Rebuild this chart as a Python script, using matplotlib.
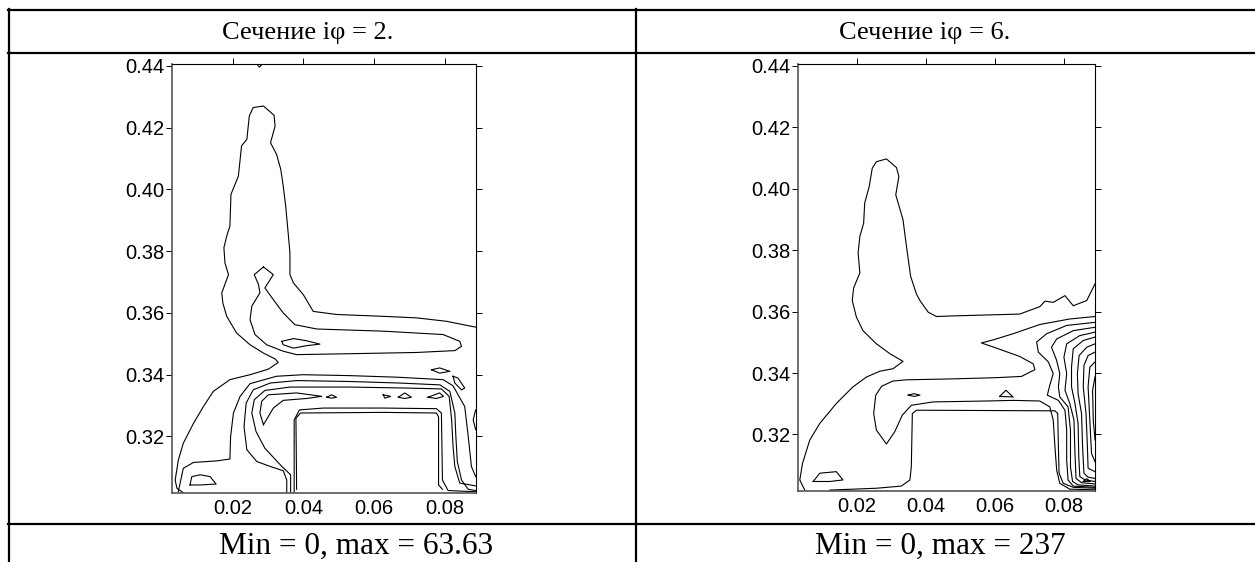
import numpy as np
import matplotlib.pyplot as plt
from matplotlib.lines import Line2D

W, H = 1255, 562

titles = ["Сечение iφ = 2.", "Сечение iφ = 6."]
footers = ["Min = 0, max = 63.63", "Min = 0, max = 237"]
xticks = [0.02, 0.04, 0.06, 0.08]
yticks = [0.32, 0.34, 0.36, 0.38, 0.40, 0.42, 0.44]
xlim = (0.0028, 0.0889)
ylim = (0.3017, 0.4406)

# contour lines of the left panel (x, y pairs)
left_lines = [
    # outer level: band top, plume, notch, lower-left
    [(0.0888, 0.3554), (0.0805, 0.3573), (0.0721, 0.3584), (0.0626, 0.3589),
     (0.0494, 0.3595), (0.0428, 0.3605), (0.0400, 0.3659), (0.0372, 0.3697),
     (0.0362, 0.3724), (0.0362, 0.3795), (0.0357, 0.3859), (0.0350, 0.3946),
     (0.0343, 0.4011), (0.0336, 0.4065), (0.0324, 0.4114), (0.0307, 0.4151),
     (0.0320, 0.4205), (0.0317, 0.4240), (0.0287, 0.4270), (0.0258, 0.4265),
     (0.0247, 0.4238), (0.0240, 0.4162), (0.0225, 0.4141), (0.0216, 0.4043),
     (0.0195, 0.3984), (0.0192, 0.3881), (0.0183, 0.3849), (0.0175, 0.3811),
     (0.0178, 0.3762), (0.0188, 0.3724), (0.0169, 0.3665), (0.0172, 0.3632),
     (0.0183, 0.3589), (0.0211, 0.3535), (0.0249, 0.3497), (0.0287, 0.3470),
     (0.0320, 0.3451), (0.0329, 0.3440), (0.0301, 0.3418), (0.0249, 0.3400),
     (0.0192, 0.3384), (0.0145, 0.3346), (0.0117, 0.3297), (0.0089, 0.3243),
     (0.0060, 0.3178), (0.0046, 0.3124), (0.0037, 0.3059), (0.0042, 0.3032),
     (0.0060, 0.3018)],
    # second level: inner plume and band
    [(0.0287, 0.3749), (0.0315, 0.3724), (0.0291, 0.3681), (0.0298, 0.3670),
     (0.0315, 0.3643), (0.0343, 0.3600), (0.0376, 0.3562), (0.0438, 0.3548),
     (0.0626, 0.3541), (0.0796, 0.3530), (0.0843, 0.3508), (0.0848, 0.3492),
     (0.0829, 0.3478), (0.0721, 0.3472), (0.0532, 0.3468), (0.0381, 0.3465),
     (0.0343, 0.3476), (0.0296, 0.3497), (0.0263, 0.3530), (0.0249, 0.3578),
     (0.0254, 0.3622), (0.0277, 0.3665), (0.0273, 0.3692), (0.0261, 0.3724),
     (0.0287, 0.3749)],
    # small loop in the band
    [(0.0339, 0.3508), (0.0372, 0.3517), (0.0409, 0.3510), (0.0447, 0.3499),
     (0.0409, 0.3494), (0.0372, 0.3486), (0.0343, 0.3497), (0.0339, 0.3508)],
    # notch at the top edge
    [(0.0268, 0.4406), (0.0276, 0.4396), (0.0284, 0.4406)],
    # lower nested contours
    [(0.0046, 0.3022), (0.0060, 0.3097), (0.0089, 0.3116), (0.0155, 0.3121),
     (0.0192, 0.3127), (0.0194, 0.3200), (0.0202, 0.3276), (0.0221, 0.3330),
     (0.0249, 0.3371), (0.0324, 0.3395), (0.0400, 0.3400), (0.0532, 0.3397),
     (0.0664, 0.3392), (0.0796, 0.3384), (0.0824, 0.3364), (0.0857, 0.3297),
     (0.0867, 0.3200), (0.0876, 0.3103), (0.0888, 0.3070)],
    [(0.0353, 0.3018), (0.0353, 0.3059), (0.0343, 0.3089), (0.0306, 0.3103),
     (0.0268, 0.3119), (0.0240, 0.3157), (0.0232, 0.3232), (0.0238, 0.3308),
     (0.0258, 0.3351), (0.0306, 0.3373), (0.0381, 0.3381), (0.0532, 0.3378),
     (0.0673, 0.3373), (0.0787, 0.3367), (0.0815, 0.3346), (0.0829, 0.3276),
     (0.0832, 0.3200), (0.0836, 0.3119), (0.0848, 0.3059), (0.0867, 0.3029),
     (0.0888, 0.3025)],
    [(0.0364, 0.3016), (0.0364, 0.3076), (0.0339, 0.3103), (0.0291, 0.3162),
     (0.0266, 0.3216), (0.0254, 0.3276), (0.0261, 0.3319), (0.0291, 0.3349),
     (0.0362, 0.3360), (0.0532, 0.3360), (0.0683, 0.3357), (0.0791, 0.3354),
     (0.0813, 0.3330), (0.0820, 0.3254), (0.0824, 0.3168), (0.0829, 0.3103),
     (0.0843, 0.3049), (0.0888, 0.3040)],
    [(0.0287, 0.3238), (0.0277, 0.3276), (0.0282, 0.3314), (0.0301, 0.3335),
     (0.0381, 0.3341), (0.0452, 0.3330), (0.0409, 0.3323), (0.0343, 0.3317),
     (0.0315, 0.3292), (0.0287, 0.3238)],
    [(0.0374, 0.3016), (0.0374, 0.3254), (0.0389, 0.3286), (0.0456, 0.3292),
     (0.0626, 0.3292), (0.0777, 0.3290), (0.0791, 0.3276), (0.0794, 0.3059),
     (0.0810, 0.3025), (0.0888, 0.3021)],
    [(0.0381, 0.3029), (0.0379, 0.3259), (0.0392, 0.3276), (0.0626, 0.3278),
     (0.0777, 0.3276), (0.0783, 0.3263), (0.0783, 0.3043), (0.0794, 0.3029)],
    # small islands
    [(0.0466, 0.3327), (0.0480, 0.3335), (0.0494, 0.3327), (0.0480, 0.3324), (0.0466, 0.3327)],
    [(0.0626, 0.3335), (0.0647, 0.3330), (0.0631, 0.3324), (0.0626, 0.3335)],
    [(0.0669, 0.3327), (0.0687, 0.3341), (0.0706, 0.3327), (0.0687, 0.3323), (0.0669, 0.3327)],
    [(0.0753, 0.3327), (0.0786, 0.3341), (0.0797, 0.3330), (0.0777, 0.3323), (0.0753, 0.3327)],
    [(0.0763, 0.3416), (0.0786, 0.3422), (0.0815, 0.3411), (0.0786, 0.3405), (0.0763, 0.3416)],
    [(0.0824, 0.3395), (0.0838, 0.3389), (0.0857, 0.3357), (0.0848, 0.3351), (0.0829, 0.3373),
     (0.0824, 0.3395)],
    [(0.0888, 0.3286), (0.0881, 0.3254), (0.0888, 0.3222)],
    [(0.0079, 0.3043), (0.0084, 0.3070), (0.0108, 0.3076), (0.0136, 0.3070),
     (0.0153, 0.3046), (0.0108, 0.3043), (0.0079, 0.3043)],
]

# contour lines of the right panel
right_lines = [
    # outer level
    [(0.0889, 0.3690), (0.0865, 0.3636), (0.0826, 0.3619), (0.0802, 0.3652),
     (0.0768, 0.3630), (0.0744, 0.3634), (0.0729, 0.3616), (0.0671, 0.3592),
     (0.0575, 0.3589), (0.0478, 0.3586), (0.0430, 0.3584), (0.0406, 0.3598),
     (0.0382, 0.3636), (0.0372, 0.3657), (0.0355, 0.3715), (0.0343, 0.3812),
     (0.0333, 0.3899), (0.0312, 0.3980), (0.0321, 0.4040), (0.0314, 0.4069),
     (0.0285, 0.4097), (0.0256, 0.4088), (0.0244, 0.4067), (0.0235, 0.4007),
     (0.0222, 0.3953), (0.0219, 0.3888), (0.0208, 0.3845), (0.0203, 0.3791),
     (0.0208, 0.3726), (0.0190, 0.3677), (0.0186, 0.3636), (0.0198, 0.3582),
     (0.0217, 0.3538), (0.0256, 0.3495), (0.0295, 0.3463), (0.0333, 0.3438),
     (0.0304, 0.3414), (0.0266, 0.3406), (0.0227, 0.3387), (0.0188, 0.3355),
     (0.0140, 0.3301), (0.0092, 0.3236), (0.0063, 0.3182), (0.0042, 0.3106),
     (0.0034, 0.3052), (0.0048, 0.3020)],
    # second level with the sharp tip and the V
    [(0.0889, 0.3584), (0.0816, 0.3576), (0.0729, 0.3558), (0.0652, 0.3528),
     (0.0594, 0.3508), (0.0560, 0.3498), (0.0604, 0.3481), (0.0671, 0.3454),
     (0.0710, 0.3430), (0.0715, 0.3411), (0.0676, 0.3389), (0.0604, 0.3385),
     (0.0478, 0.3381), (0.0343, 0.3378), (0.0304, 0.3374), (0.0271, 0.3357),
     (0.0254, 0.3328), (0.0248, 0.3268), (0.0256, 0.3214), (0.0285, 0.3169),
     (0.0309, 0.3209), (0.0331, 0.3263), (0.0357, 0.3295), (0.0420, 0.3306),
     (0.0575, 0.3309), (0.0652, 0.3311), (0.0729, 0.3309), (0.0758, 0.3290),
     (0.0768, 0.3247), (0.0773, 0.3160), (0.0778, 0.3084), (0.0787, 0.3041),
     (0.0816, 0.3022), (0.0889, 0.3020)],
    # inner rectangle
    [(0.0121, 0.3019), (0.0256, 0.3025), (0.0328, 0.3032), (0.0353, 0.3052),
     (0.0357, 0.3095), (0.0360, 0.3268), (0.0372, 0.3279), (0.0773, 0.3277),
     (0.0781, 0.3268), (0.0783, 0.3160), (0.0785, 0.3074), (0.0797, 0.3041),
     (0.0826, 0.3028), (0.0889, 0.3025)],
    # nested lines against the right edge
    [(0.0889, 0.3565), (0.0807, 0.3555), (0.0749, 0.3528), (0.0720, 0.3501),
     (0.0725, 0.3468), (0.0754, 0.3436), (0.0768, 0.3398), (0.0758, 0.3360),
     (0.0751, 0.3328), (0.0783, 0.3311), (0.0802, 0.3279), (0.0807, 0.3214),
     (0.0807, 0.3117), (0.0811, 0.3052), (0.0826, 0.3032), (0.0889, 0.3028)],
    [(0.0889, 0.3549), (0.0826, 0.3538), (0.0778, 0.3511), (0.0763, 0.3484),
     (0.0778, 0.3441), (0.0787, 0.3398), (0.0783, 0.3355), (0.0787, 0.3322),
     (0.0811, 0.3290), (0.0818, 0.3214), (0.0818, 0.3095), (0.0824, 0.3047),
     (0.0840, 0.3036), (0.0889, 0.3032)],
    [(0.0889, 0.3533), (0.0845, 0.3522), (0.0807, 0.3495), (0.0799, 0.3452),
     (0.0807, 0.3398), (0.0802, 0.3344), (0.0816, 0.3301), (0.0828, 0.3247),
     (0.0831, 0.3138), (0.0834, 0.3057), (0.0850, 0.3043), (0.0889, 0.3039)],
    [(0.0889, 0.3517), (0.0855, 0.3506), (0.0826, 0.3479), (0.0821, 0.3419),
     (0.0821, 0.3355), (0.0831, 0.3301), (0.0840, 0.3236), (0.0842, 0.3128),
     (0.0845, 0.3063), (0.0860, 0.3052), (0.0889, 0.3047)],
    [(0.0889, 0.3495), (0.0865, 0.3484), (0.0843, 0.3457), (0.0838, 0.3398),
     (0.0840, 0.3333), (0.0850, 0.3268), (0.0853, 0.3160), (0.0857, 0.3074),
     (0.0869, 0.3061), (0.0889, 0.3057)],
    [(0.0889, 0.3468), (0.0869, 0.3457), (0.0857, 0.3425), (0.0855, 0.3355),
     (0.0863, 0.3268), (0.0867, 0.3160), (0.0869, 0.3090), (0.0889, 0.3079)],
    [(0.0889, 0.3436), (0.0874, 0.3419), (0.0869, 0.3355), (0.0874, 0.3247),
     (0.0879, 0.3138), (0.0889, 0.3111)],
    [(0.0889, 0.3387), (0.0882, 0.3344), (0.0884, 0.3247), (0.0889, 0.3182)],
    # small islands
    [(0.0348, 0.3328), (0.0365, 0.3333), (0.0382, 0.3328), (0.0365, 0.3324), (0.0348, 0.3328)],
    [(0.0613, 0.3324), (0.0631, 0.3344), (0.0652, 0.3322), (0.0613, 0.3324)],
    [(0.0073, 0.3047), (0.0092, 0.3074), (0.0140, 0.3079), (0.0159, 0.3052),
     (0.0121, 0.3047), (0.0073, 0.3047)],
    [(0.0855, 0.3047), (0.0865, 0.3056), (0.0876, 0.3047), (0.0855, 0.3047)],
]

fig = plt.figure(figsize=(W / 100, H / 100), dpi=100)

# table frame, pixel positions
def hline(y, x0=7.5, x1=1255):
    fig.add_artist(Line2D([x0 / W, x1 / W], [1 - y / H, 1 - y / H], color="k", lw=1.6))

def vline(x, y0=9, y1=562):
    fig.add_artist(Line2D([x / W, x / W], [1 - y0 / H, 1 - y1 / H], color="k", lw=1.6))

for y in (10, 53, 524):
    hline(y)
for x in (8.5, 636):
    vline(x)

serif = ["Liberation Serif", "DejaVu Serif"]
fig.text(308 / W, 1 - 33 / H, titles[0], ha="center", va="center", fontsize=19, family=serif)
fig.text(925 / W, 1 - 33 / H, titles[1], ha="center", va="center", fontsize=19, family=serif)
fig.text(356 / W, 1 - 546 / H, footers[0], ha="center", va="center", fontsize=22.5, family=serif)
fig.text(940 / W, 1 - 546 / H, footers[1], ha="center", va="center", fontsize=22.5, family=serif)

boxes = [(172, 476, 64, 493), (797.7, 1095, 64, 490.7)]
for (l, r, t, b), lines in zip(boxes, [left_lines, right_lines]):
    ax = fig.add_axes([l / W, 1 - b / H, (r - l) / W, (b - t) / H])
    for line in lines:
        pts = np.array(line)
        ax.plot(pts[:, 0], pts[:, 1], color="k", lw=0.8)
    ax.set_xlim(xlim)
    ax.set_ylim(ylim)
    ax.set_xticks(xticks)
    ax.set_yticks(yticks)
    ax.set_xticklabels(["%.2f" % v for v in xticks])
    ax.set_yticklabels(["%.2f" % v for v in yticks])
    ax.tick_params(direction="out", length=4.5, width=0.7, top=True, right=True,
                   labelsize=14.5, pad=1)
    ax.tick_params(axis="x", bottom=False, pad=0)
    for lab in ax.get_xticklabels() + ax.get_yticklabels():
        lab.set_family(["Liberation Sans", "DejaVu Sans"])
    for s in ax.spines.values():
        s.set_linewidth(0.8)
    for side in ("left", "bottom"):
        ax.spines[side].set_color("#555555")
        ax.spines[side].set_linewidth(1.2)

fig.savefig("out.png", dpi=100)
